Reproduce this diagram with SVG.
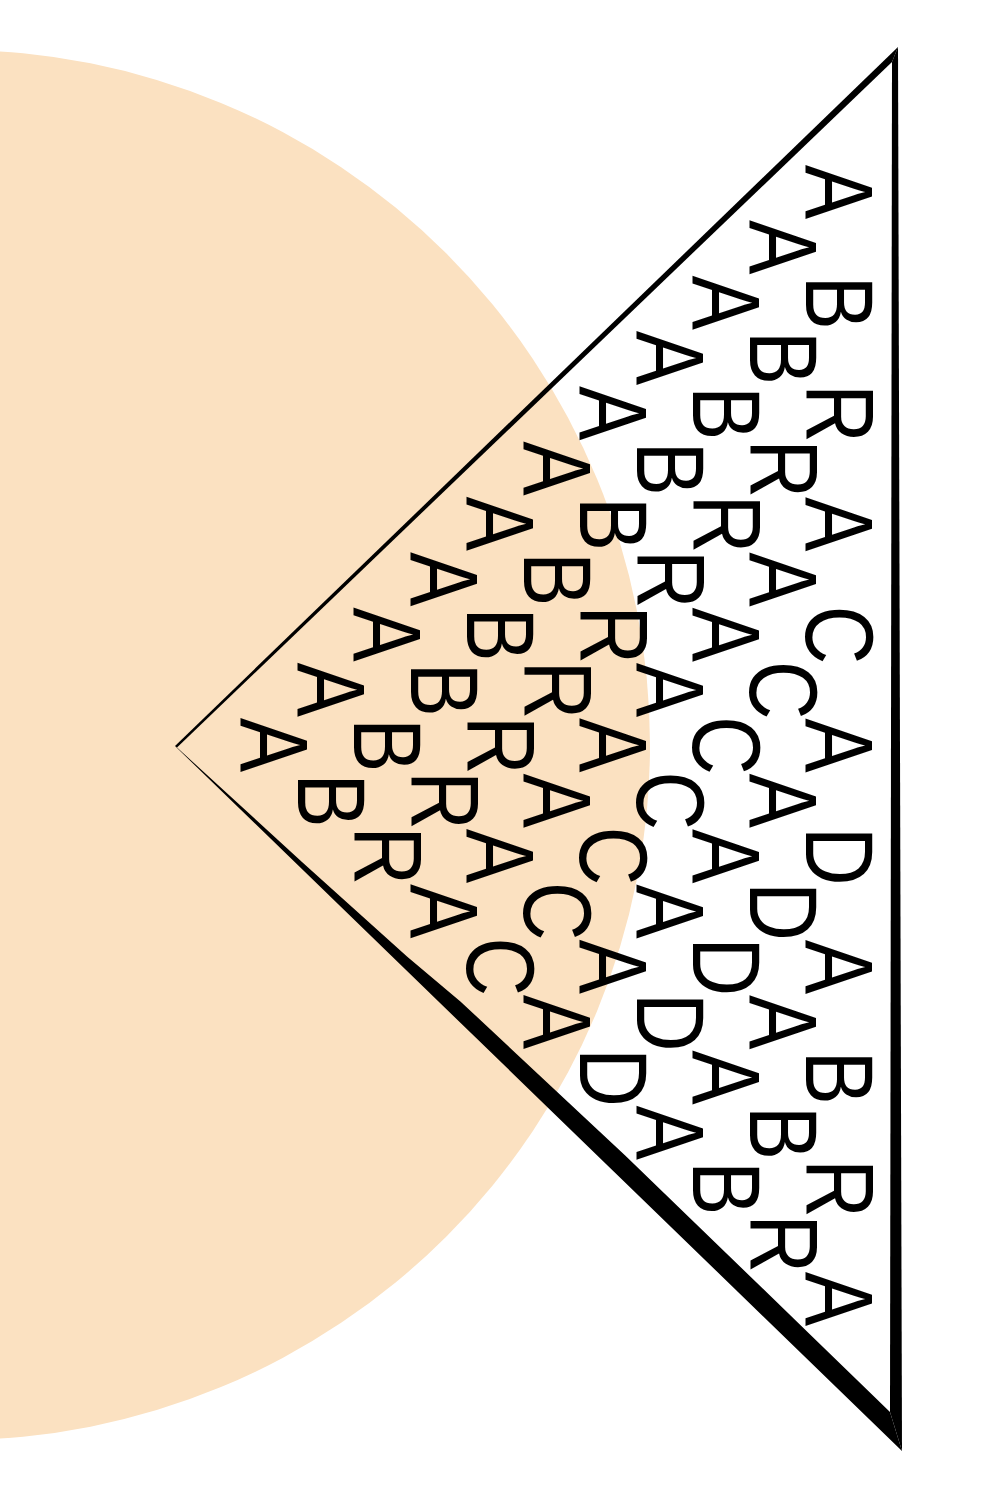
<svg xmlns="http://www.w3.org/2000/svg" width="1000" height="1491" viewBox="0 0 1000 1491">
<style>
.row{font-family:"Liberation Sans",Arial,sans-serif;font-size:96px;fill:#000;text-anchor:middle}
.edge{fill:#000}
</style>
<rect x="0" y="0" width="1000" height="1491" fill="#fff"/>
<g id="disc">
<circle cx="-45" cy="745" r="695" fill="#FBE1C1"/>
</g>
<g id="triangle">
<polygon class="edge" points="898,47 175,746 177,747.5 892,62"/>
<polygon class="edge" points="898,47 902,1451 890,1412 892,62"/>
<polygon class="edge" points="175,746 902,1451 890,1412 813.2,1337.4 625.2,1155.4 460.4,1001.4 407,956.6 302,862 177,747.5"/>
</g>
<g id="letters">
<text class="row" transform="translate(806,0) rotate(90) scale(0.85,1)" x="225.9 356.1 486.4 616.6 746.9 877.1 1007.3 1137.6 1267.8 1398.1 1528.3" y="0">ABRACADABRA</text>
<text class="row" transform="translate(749.5,0) rotate(90) scale(0.85,1)" x="290.9 421.2 551.4 681.7 811.9 942.1 1072.4 1202.6 1332.9 1463.1" y="0">ABRACADABR</text>
<text class="row" transform="translate(693,0) rotate(90) scale(0.85,1)" x="356.0 486.2 616.5 746.7 876.9 1007.2 1137.4 1267.7 1397.9" y="0">ABRACADAB</text>
<text class="row" transform="translate(636.5,0) rotate(90) scale(0.85,1)" x="421.1 551.3 681.5 811.8 942.0 1072.3 1202.5 1332.7" y="0">ABRACADA</text>
<text class="row" transform="translate(580,0) rotate(90) scale(0.85,1)" x="486.1 616.4 746.6 876.8 1007.1 1137.3 1267.6" y="0">ABRACAD</text>
<text class="row" transform="translate(523.5,0) rotate(90) scale(0.85,1)" x="551.2 681.4 811.6 941.9 1072.1 1202.4" y="0">ABRACA</text>
<text class="row" transform="translate(467,0) rotate(90) scale(0.85,1)" x="616.2 746.5 876.7 1006.9 1137.2" y="0">ABRAC</text>
<text class="row" transform="translate(410.5,0) rotate(90) scale(0.85,1)" x="681.3 811.5 941.8 1072.0" y="0">ABRA</text>
<text class="row" transform="translate(354,0) rotate(90) scale(0.85,1)" x="746.4 876.6 1006.8" y="0">ABR</text>
<text class="row" transform="translate(297.5,0) rotate(90) scale(0.85,1)" x="811.4 941.7" y="0">AB</text>
<text class="row" transform="translate(241,0) rotate(90) scale(0.85,1)" x="876.5" y="0">A</text>
</g>
</svg>
